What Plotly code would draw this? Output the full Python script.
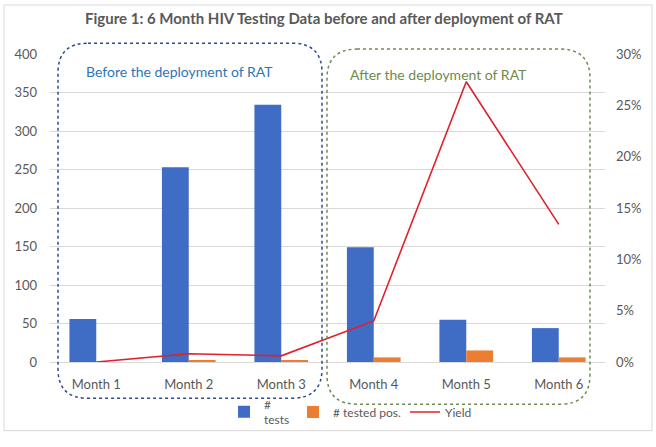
import plotly.graph_objects as go

months = ["Month 1", "Month 2", "Month 3", "Month 4", "Month 5", "Month 6"]
tests = [56, 253, 334, 149, 55, 44]
tested_pos = [0, 2, 2, 6, 15, 6]
yield_pct = [0.0, 0.008, 0.006, 0.040, 0.273, 0.134]

W, H = 656, 447
L, R, T, B = 50, 605, 54, 368  # plot area pixels

def px(x):
    return (x - L) / (R - L)

def py(y):
    return (B - y) / (B - T)

def rounded_path(x0, y0, x1, y1, r):
    def p(x, y):
        return f"{px(x):.5f},{py(y):.5f}"
    return (f"M {p(x0 + r, y0)} L {p(x1 - r, y0)} Q {p(x1, y0)} {p(x1, y0 + r)} "
            f"L {p(x1, y1 - r)} Q {p(x1, y1)} {p(x1 - r, y1)} "
            f"L {p(x0 + r, y1)} Q {p(x0, y1)} {p(x0, y1 - r)} "
            f"L {p(x0, y0 + r)} Q {p(x0, y0)} {p(x0 + r, y0)} Z")

grey = "#595959"
font = "Lato"

fig = go.Figure()
fig.add_trace(go.Bar(x=months, y=tests, name="#<br>tests", legend="legend",
                     marker=dict(color="#3F6CC4", line=dict(width=0))))
fig.add_trace(go.Bar(x=months, y=tested_pos, name="# tested pos.", legend="legend2",
                     marker=dict(color="#ED7D31", line=dict(width=0))))
fig.add_trace(go.Scatter(x=months, y=yield_pct, name="Yield", yaxis="y2", legend="legend3",
                         mode="lines", line=dict(color="#E0202A", width=1.6)))

shapes = [
    dict(type="rect", xref="paper", yref="paper",
         x0=px(4), x1=px(652), y0=py(4), y1=py(438),
         line=dict(color="#D9D9D9", width=1), layer="below"),
    dict(type="path", xref="paper", yref="paper",
         path=rounded_path(58, 43, 322, 405, 30),
         line=dict(color="#2F4A8A", width=1.5, dash="dot")),
    dict(type="path", xref="paper", yref="paper",
         path=rounded_path(327, 49, 590, 411, 30),
         line=dict(color="#6F8A55", width=1.5, dash="dot")),
]

annotations = [
    dict(text="<b>Figure 1: 6 Month HIV Testing Data before and after deployment of RAT</b>",
         xref="paper", yref="paper", x=px(324), y=py(17), showarrow=False,
         font=dict(family=font, size=15, color=grey), xanchor="center", yanchor="middle"),
    dict(text="Before the deployment of RAT", xref="paper", yref="paper",
         x=px(84), y=py(72), showarrow=False, xanchor="left", yanchor="middle",
         font=dict(family=font, size=14, color="#2E75B6")),
    dict(text="After the deployment of RAT", xref="paper", yref="paper",
         x=px(348), y=py(75), showarrow=False, xanchor="left", yanchor="middle",
         font=dict(family=font, size=14, color="#6E8B4E")),
]

def leg(xpix):
    return dict(orientation="h", x=px(xpix), y=py(419), xanchor="left", yanchor="middle",
                font=dict(family=font, size=12, color=grey), bgcolor="rgba(0,0,0,0)",
                itemwidth=30, valign="middle")

fig.update_layout(
    width=W, height=H,
    margin=dict(l=L, r=W - R, t=T, b=H - B),
    paper_bgcolor="white", plot_bgcolor="white",
    barmode="group", bargap=0.42, bargroupgap=0,
    font=dict(family=font, size=12, color=grey),
    showlegend=True,
    legend=leg(224),
    legend2=leg(293),
    legend3=leg(405),
    xaxis=dict(showgrid=False, showline=True, linecolor="#D9D9D9", linewidth=1,
               ticks="", tickfont=dict(size=13, color=grey), ticklabelstandoff=10),
    yaxis=dict(range=[0, 400], dtick=50, showgrid=True, gridcolor="#D9D9D9", gridwidth=1,
               zeroline=False, showline=False, ticks="", tickfont=dict(size=13, color=grey),
               ticklabelstandoff=12),
    yaxis2=dict(range=[0, 0.30], dtick=0.05, tickformat=".0%", overlaying="y", side="right",
                showgrid=False, zeroline=False, showline=False, ticks="",
                tickfont=dict(size=13, color=grey), ticklabelstandoff=10),
    shapes=shapes,
    annotations=annotations,
)

fig.write_html("out.html", config={"displayModeBar": False},
               post_script="document.body.style.margin='0';document.body.style.padding='0';")
